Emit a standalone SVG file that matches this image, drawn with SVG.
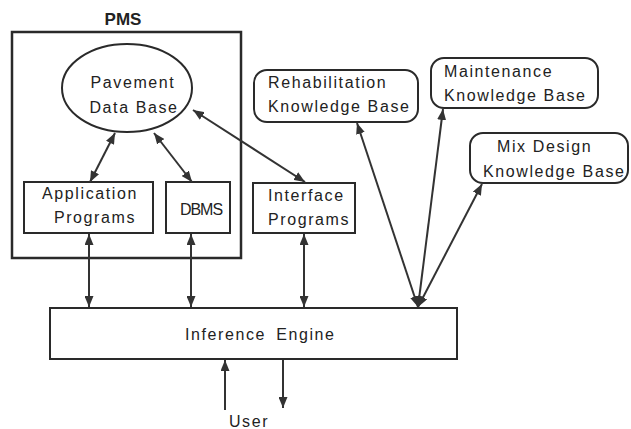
<svg xmlns="http://www.w3.org/2000/svg" width="631" height="429" viewBox="0 0 631 429">
<defs>
<marker id="ah" viewBox="0 0 11 9" refX="11" refY="4.5" markerWidth="11" markerHeight="9" markerUnits="userSpaceOnUse" orient="auto-start-reverse">
<path d="M0,0 L11,4.5 L0,9 Z" fill="#333"/>
</marker>
</defs>
<style>
.box{fill:none;stroke:#2a2a2a;stroke-width:2}
.t{font-family:"Liberation Sans",Arial,sans-serif;font-size:16px;letter-spacing:1.6px;fill:#222}
.c{stroke:#333;stroke-width:2;fill:none}
</style>
<rect width="631" height="429" fill="#fff"/>
<g id="pms">
<rect class="box" x="12" y="32" width="229" height="226" style="stroke-width:2.5"/>
<text x="123" y="25" text-anchor="middle" style="font-family:'Liberation Sans',Arial,sans-serif;font-size:17px;font-weight:bold;fill:#222">PMS</text>
</g>
<g id="pavement">
<ellipse class="box" cx="127" cy="88" rx="65" ry="44"/>
<text class="t" x="133" y="88" text-anchor="middle">Pavement</text>
<text class="t" x="134" y="113" text-anchor="middle">Data Base</text>
</g>
<g id="application">
<rect class="box" x="24" y="182" width="129" height="51"/>
<text class="t" x="90" y="199" text-anchor="middle">Application</text>
<text class="t" x="95" y="223" text-anchor="middle">Programs</text>
</g>
<g id="dbms">
<rect class="box" x="166" y="182" width="64" height="51"/>
<text x="201" y="215" text-anchor="middle" style="font-family:'Liberation Sans',Arial,sans-serif;font-size:16px;letter-spacing:-1px;fill:#222">DBMS</text>
</g>
<g id="interface">
<rect class="box" x="253" y="183" width="102" height="50"/>
<text class="t" x="268" y="201">Interface</text>
<text class="t" x="268" y="225">Programs</text>
</g>
<g id="rehab">
<rect class="box" x="254" y="70" width="164" height="52" rx="13"/>
<text class="t" x="268" y="88">Rehabilitation</text>
<text class="t" x="268" y="112">Knowledge Base</text>
</g>
<g id="maint">
<rect class="box" x="431" y="58" width="167" height="50" rx="13"/>
<text class="t" x="444" y="77">Maintenance</text>
<text class="t" x="444" y="101">Knowledge Base</text>
</g>
<g id="mix">
<rect class="box" x="470" y="133" width="158" height="50" rx="13"/>
<text class="t" x="497" y="152">Mix Design</text>
<text class="t" x="483" y="177">Knowledge Base</text>
</g>
<g id="inference">
<rect class="box" x="50" y="308" width="407" height="51"/>
<text class="t" x="185" y="340" style="word-spacing:4px">Inference Engine</text>
</g>
<g id="user">
<text class="t" x="249" y="427" text-anchor="middle">User</text>
</g>
<g id="connectors">
<line class="c" x1="90" y1="182" x2="115" y2="133" marker-start="url(#ah)" marker-end="url(#ah)"/>
<line class="c" x1="192" y1="182" x2="154" y2="133" marker-start="url(#ah)" marker-end="url(#ah)"/>
<line class="c" x1="305" y1="182" x2="193" y2="110" marker-start="url(#ah)" marker-end="url(#ah)"/>
<line class="c" x1="89" y1="234" x2="89" y2="307" marker-start="url(#ah)" marker-end="url(#ah)"/>
<line class="c" x1="191" y1="234" x2="191" y2="307" marker-start="url(#ah)" marker-end="url(#ah)"/>
<line class="c" x1="304" y1="234" x2="304" y2="307" marker-start="url(#ah)" marker-end="url(#ah)"/>
<line class="c" x1="357" y1="123" x2="418" y2="307" marker-start="url(#ah)" marker-end="url(#ah)"/>
<line class="c" x1="443" y1="109" x2="418" y2="307" marker-start="url(#ah)" marker-end="url(#ah)"/>
<line class="c" x1="482" y1="184" x2="418" y2="307" marker-start="url(#ah)" marker-end="url(#ah)"/>
<line class="c" x1="225" y1="410" x2="225" y2="360" marker-end="url(#ah)"/>
<line class="c" x1="283" y1="360" x2="283" y2="408" marker-end="url(#ah)"/>
</g>
</svg>
